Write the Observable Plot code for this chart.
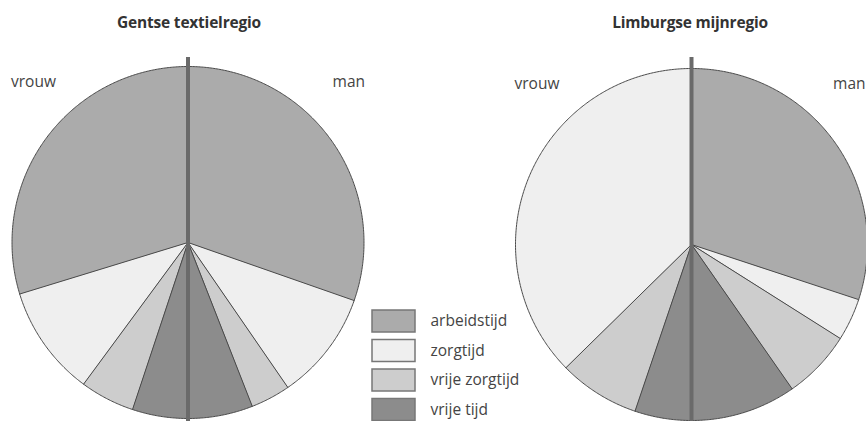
<!DOCTYPE html>
<html>
<head>
<meta charset="utf-8">
<script src="https://cdn.jsdelivr.net/npm/d3@7"></script>
<script src="https://cdn.jsdelivr.net/npm/@observablehq/plot@0.6"></script>
<style>
  html, body { margin: 0; padding: 0; background: #fff; }
  #wrap { position: relative; width: 866px; height: 421px; overflow: hidden; font-family: "Open Sans", sans-serif; }
  #titles { position: relative; height: 40px; }
  .title { position: absolute; top: 11px; width: 300px; margin-left: -150px; text-align: center; font-weight: 700; font-size: 15.5px; color: #333; letter-spacing: -0.2px; }
</style>
</head>
<body>
<div id="wrap">
  <div id="titles"></div>
  <div id="chart"></div>
</div>
<script>
// ---- data ----
const categories = ["arbeidstijd", "zorgtijd", "vrije zorgtijd", "vrije tijd"];
const regions = ["Gentse textielregio", "Limburgse mijnregio"];
const sexes = ["vrouw", "man"];
const gentVrouw = [59.4, 20.3, 10.0, 10.2];
const gentMan = [60.7, 20.1, 7.3, 11.9];
const limburgVrouw = [0, 74.7, 14.9, 10.4];
const limburgMan = [60.2, 7.8, 12.7, 19.4];
const colors = ["#ababab", "#efefef", "#cdcdcd", "#8c8c8c"];

// ---- layout ----
const W = 866, H = 381, R = 176;
const pies = [
  {region: regions[0], cx: 187.5, cy: 202, vrouw: gentVrouw, man: gentMan, titleX: 189},
  {region: regions[1], cx: 691, cy: 204, vrouw: limburgVrouw, man: limburgMan, titleX: 690}
];

const titles = document.getElementById("titles");
pies.forEach(p => {
  const d = document.createElement("div");
  d.className = "title";
  d.style.left = p.titleX + "px";
  d.textContent = p.region;
  titles.appendChild(d);
});

// build slice polygons from the values
const pts = [];
pies.forEach((p, pi) => {
  sexes.forEach(s => {
    const vals = p[s];
    const dir = s === "man" ? 1 : -1;
    const total = d3.sum(vals);
    let acc = 0;
    vals.forEach((v, i) => {
      if (v <= 0) return;
      const a0 = acc / total * Math.PI;
      const a1 = (acc + v) / total * Math.PI;
      acc += v;
      const id = `${pi}-${s}-${i}`;
      pts.push({id, cat: categories[i], x: p.cx, y: p.cy});
      const n = Math.max(2, Math.ceil((a1 - a0) / (Math.PI / 360)));
      for (let k = 0; k <= n; k++) {
        const t = a0 + (a1 - a0) * k / n;
        pts.push({id, cat: categories[i], x: p.cx + dir * R * Math.sin(t), y: p.cy - R * Math.cos(t)});
      }
    });
  });
});

const sexLabels = [];
pies.forEach(p => {
  sexLabels.push({text: sexes[0], x: p.cx - R - 1, y: p.cy - 160, anchor: "start"});
  sexLabels.push({text: sexes[1], x: Math.min(p.cx + R + 1, W - 1), y: p.cy - 160, anchor: "end"});
});

const legTop = 270, legStep = 29.5;

const chart = Plot.plot({
  width: W,
  height: H,
  margin: 0,
  style: {fontFamily: "'Open Sans', sans-serif", background: "transparent"},
  x: {domain: [0, W], range: [0, W], axis: null},
  y: {domain: [0, H], range: [0, H], axis: null},
  color: {domain: categories, range: colors},
  marks: [
    Plot.line(pts, {x: "x", y: "y", z: "id", fill: "cat", stroke: "#4a4a4a", strokeWidth: 1, curve: "linear-closed"}),
    Plot.ruleX(pies, {x: "cx", y1: 17, y2: H, stroke: "#6a6a6a", strokeWidth: 4}),
    Plot.text(sexLabels.filter(d => d.anchor === "start"), {x: "x", y: "y", text: "text", textAnchor: "start", fontSize: 15.5, fill: "#444"}),
    Plot.text(sexLabels.filter(d => d.anchor === "end"), {x: "x", y: "y", text: "text", textAnchor: "end", fontSize: 15.5, fill: "#444"}),
    Plot.rect(categories, {x1: 372, x2: 415, y1: (d, i) => legTop + i * legStep, y2: (d, i) => legTop + i * legStep + 22, fill: d => d, stroke: "#777", strokeWidth: 1.5}),
    Plot.text(categories, {x: 430, y: (d, i) => legTop + i * legStep + 11, text: d => d, textAnchor: "start", fontSize: 15.5, fill: "#444"})
  ]
});
document.getElementById("chart").appendChild(chart);
</script>
</body>
</html>
